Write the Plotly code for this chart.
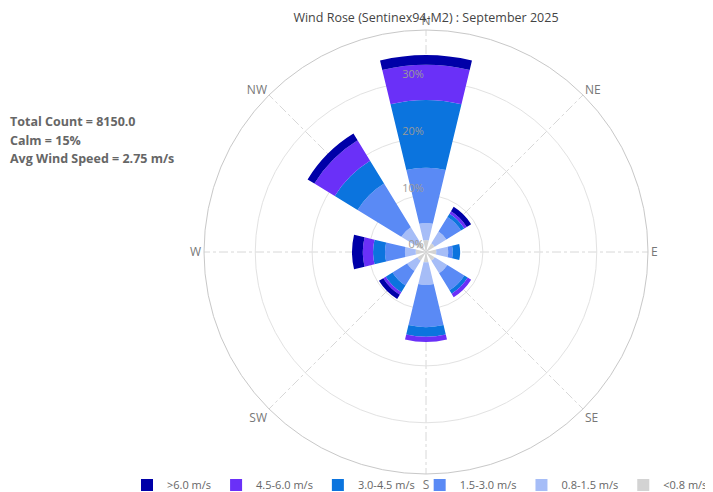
import plotly.graph_objects as go

directions = ["N", "NE", "E", "SE", "S", "SW", "W", "NW"]
angles = [0, 45, 90, 135, 180, 225, 270, 315]

speed_bins = ["<0.8 m/s", "0.8-1.5 m/s", "1.5-3.0 m/s", "3.0-4.5 m/s", "4.5-6.0 m/s", ">6.0 m/s"]
bin_colors = ["#d3d3d3", "#a6bdf7", "#5a8af5", "#0b74de", "#6a30f8", "#0000a8"]

# percentage frequency per direction (N, NE, E, SE, S, SW, W, NW)
calm_lt08 = [2.1, 1.8, 1.8, 1.8, 1.8, 1.8, 1.8, 2.1]
s08_15 = [3.0, 2.4, 2.1, 2.6, 4.0, 2.1, 1.9, 3.0]
s15_30 = [9.7, 3.0, 0.8, 3.5, 7.4, 3.0, 3.5, 9.0]
s30_45 = [11.9, 0.7, 1.3, 0.7, 1.7, 1.4, 2.1, 4.7]
s45_60 = [6.2, 0.5, 0.0, 0.7, 0.9, 0.5, 1.8, 4.2]
s_gt60 = [1.7, 0.9, 0.0, 0.0, 0.0, 0.9, 1.9, 1.4]
series = [calm_lt08, s08_15, s15_30, s30_45, s45_60, s_gt60]

radial_ticks = [0, 10, 20, 30]
radial_labels = ["0%", "10%", "20%", "30%"]

title_text = "Wind Rose (Sentinex94-M2) : September 2025"
info_lines = ["Total Count = 8150.0", "Calm = 15%", "Avg Wind Speed = 2.75 m/s"]

W, H = 713, 492
OFF = 8  # default page body margin of the html page
cx, cy, R = 426 - OFF, 252 - OFF, 222

fig = go.Figure()
for name, vals, col in zip(speed_bins, series, bin_colors):
    fig.add_trace(go.Barpolar(
        r=vals, theta=angles, width=[27] * len(angles), name=name,
        marker=dict(color=col, line=dict(width=0)),
        hoverinfo="skip",
    ))

fig.update_layout(
    width=W, height=H,
    margin=dict(l=0, r=0, t=0, b=0, autoexpand=False),
    paper_bgcolor="white",
    font=dict(family="Open Sans, Segoe UI, sans-serif", color="#666"),
    polar=dict(
        domain=dict(x=[(cx - R) / W, (cx + R) / W],
                    y=[(H - cy - R) / H, (H - cy + R) / H]),
        bgcolor="white",
        barmode="stack",
        bargap=0,
        radialaxis=dict(
            range=[0, 39], tickvals=radial_ticks,
            ticktext=[t + "<br>&nbsp;" for t in radial_labels],
            angle=90, tickangle=90, side="counterclockwise",
            showline=False, ticks="",
            gridcolor="#e2e2e2", gridwidth=1,
            tickfont=dict(size=11, color="#9a9a9a"),
        ),
        angularaxis=dict(
            direction="clockwise", rotation=90,
            tickmode="array", tickvals=angles, ticktext=directions,
            ticks="", showline=True, linecolor="#c8c8c8", linewidth=1,
            gridcolor="#d8d8d8", griddash="dashdot", gridwidth=1,
            tickfont=dict(size=12, color="#777"),
        ),
    ),
    showlegend=True,
    legend=dict(
        orientation="h", traceorder="reversed",
        x=(713 - OFF) / W, xanchor="right",
        y=(H - (485 - OFF)) / H, yanchor="middle",
        font=dict(size=11, color="#666"),
        bgcolor="rgba(0,0,0,0)",
    ),
    title=dict(text=title_text, x=cx / W, xanchor="center",
               y=(H - (18 - OFF)) / H, yanchor="middle",
               font=dict(size=12.5, color="#444")),
)

for i, line in enumerate(info_lines):
    fig.add_annotation(
        text="<b>" + line + "</b>", xref="paper", yref="paper",
        x=0, xanchor="left", y=(H - (122 + 18 * i - OFF)) / H, yanchor="middle",
        showarrow=False, align="left",
        font=dict(size=12.5, color="#666"),
    )

fig.write_html("out.html")
